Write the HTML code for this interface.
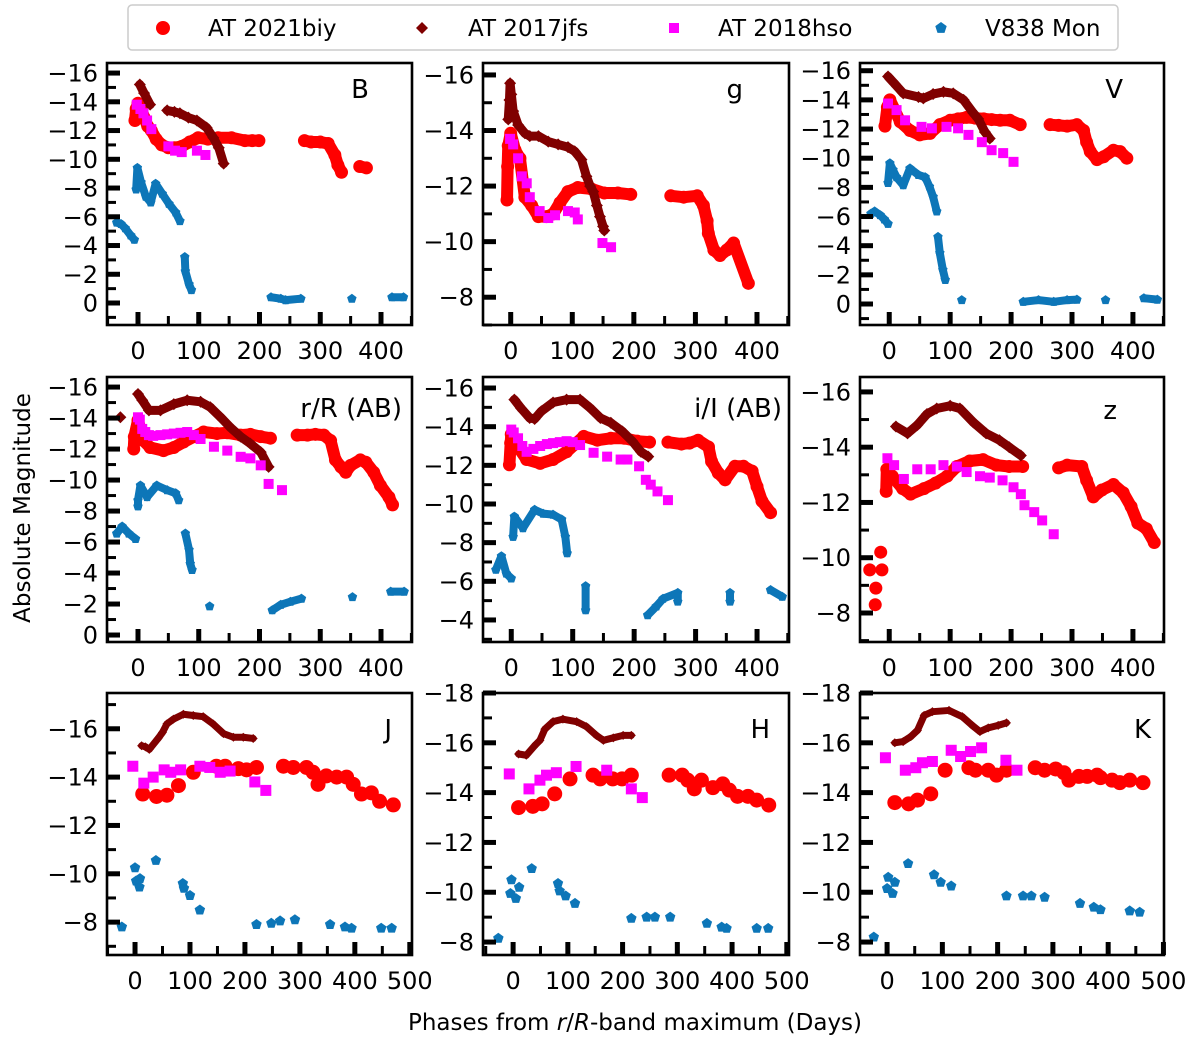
<!DOCTYPE html>
<html><head><meta charset="utf-8"><style>
html,body{margin:0;padding:0;background:#fff;}
svg{display:block;font-family:"DejaVu Sans","Liberation Sans",sans-serif;}
</style></head><body>
<svg id="fig" width="1200" height="1050" viewBox="0 0 1200 1050" xmlns="http://www.w3.org/2000/svg">
<g>
<rect x="128" y="5" width="990" height="45" rx="4" fill="#fff" stroke="#cccccc" stroke-width="1.5"/>
<g><circle cx="163" cy="28" r="7" fill="#ff0000"/><text x="208" y="36" font-size="23">AT 2021biy</text></g>
<g><path d="M422 22 L428 28 L422 34 L416 28 Z" fill="#800000"/><text x="468" y="36" font-size="23">AT 2017jfs</text></g>
<g><rect x="669" y="23" width="10" height="10" fill="#ff00ff"/><text x="718" y="36" font-size="23">AT 2018hso</text></g>
<g><path d="M941 22 L946.7 26.1 L944.5 32.9 L937.5 32.9 L935.3 26.1 Z" fill="#0d76b8"/><text x="985" y="36" font-size="23">V838 Mon</text></g>
</g>
<text x="30" y="508" font-size="23" text-anchor="middle" transform="rotate(-90 30 508)">Absolute Magnitude</text>
<text x="635" y="1030" font-size="23" text-anchor="middle">Phases from <tspan font-style="italic">r</tspan>/<tspan font-style="italic">R</tspan>-band maximum (Days)</text>
</svg>
<script>
// ---- data: [phase (days), absolute magnitude] ----
const B_biy=[[-5,-12.7],[-3,-13.5],[0,-13.9],[5,-13.6],[10,-12.9],[16,-12.3],[22,-12.0],[30,-11.4],[39,-11.0],[50,-10.8],[60,-10.8],[72,-10.9],[85,-11.2],[99,-11.5],[115,-11.4],[132,-11.5],[154,-11.5],[176,-11.3],[188,-11.3],[199,-11.3],[274,-11.3],[285,-11.2],[300,-11.2],[313,-11.1],[324,-10.3],[329,-9.6],[335,-9.1],[365,-9.5],[376,-9.4]];
const B_jfs=[[3,-15.2],[10,-14.6],[20,-13.8],[48,-13.4],[60,-13.3],[69,-13.2],[83,-12.9],[97,-12.7],[113,-12.2],[124,-11.5],[133,-10.8],[141,-9.7]];
const B_hso=[[-2,-13.8],[4,-13.5],[9,-13.2],[15,-12.7],[22,-12.1],[50,-10.9],[61,-10.6],[72,-10.5],[97,-10.6],[111,-10.3]];
const B_v838=[[-35,-5.6],[-28,-5.5],[-21,-5.2],[-12,-4.7],[-6,-4.4],[-3,-7.9],[-1,-9.4],[5,-8.4],[13,-7.4],[21,-7.0],[29,-8.3],[40,-7.6],[51,-6.9],[62,-6.3],[69,-5.7],[77,-3.2],[78,-2.2],[84,-1.3],[88,-0.9],[219,-0.4],[235,-0.3],[243,-0.2],[268,-0.3],[352,-0.3],[418,-0.4],[437,-0.4]];
const g_biy=[[-6,-11.5],[-5,-12.7],[-4,-13.45],[0,-13.9],[7,-13.3],[15,-13.0],[23,-11.6],[34,-11.3],[45,-10.9],[58,-10.9],[69,-11.0],[80,-11.4],[93,-11.8],[109,-11.95],[131,-11.9],[152,-11.75],[174,-11.75],[195,-11.7],[260,-11.65],[281,-11.6],[303,-11.65],[313,-11.3],[319,-10.75],[321,-10.3],[330,-9.7],[340,-9.5],[351,-9.7],[362,-9.95],[386,-8.5]];
const g_jfs=[[-4,-14.4],[-2,-15.1],[-1,-15.7],[1,-15.3],[4,-14.7],[12,-14.2],[23,-13.9],[31,-13.8],[45,-13.8],[61,-13.6],[77,-13.5],[93,-13.4],[104,-13.25],[115,-12.95],[123,-12.35],[129,-12.0],[134,-11.8],[140,-11.3],[145,-10.9],[150,-10.55],[152,-10.4]];
const g_hso=[[-1,-13.7],[4,-13.5],[12,-13.0],[18,-12.35],[26,-12.1],[31,-11.6],[47,-11.1],[61,-10.85],[72,-10.95],[93,-11.1],[104,-11.05],[109,-10.8],[149,-9.95],[163,-9.8]];
const g_v838=[];
const V_biy=[[-7,-12.2],[-3,-13.5],[1,-14.0],[9,-13.3],[18,-12.5],[34,-11.9],[50,-11.6],[67,-11.7],[83,-12.3],[100,-12.6],[113,-12.7],[127,-12.8],[141,-12.75],[155,-12.7],[168,-12.65],[182,-12.6],[198,-12.6],[215,-12.3],[264,-12.3],[278,-12.25],[292,-12.2],[308,-12.3],[319,-11.9],[324,-11.1],[330,-10.45],[341,-9.9],[352,-10.1],[368,-10.55],[379,-10.45],[390,-10.0]];
const V_jfs=[[-2,-15.6],[9,-15.1],[23,-14.45],[48,-14.2],[56,-14.1],[72,-14.4],[89,-14.55],[105,-14.45],[122,-14.0],[138,-13.1],[146,-12.7],[157,-11.8],[165,-11.35]];
const V_hso=[[-2,-13.75],[12,-13.3],[26,-12.6],[53,-12.15],[70,-12.05],[94,-12.15],[113,-12.05],[130,-11.6],[152,-11.1],[168,-10.55],[187,-10.35],[204,-9.75]];
const V_v838=[[-30,-6.2],[-24,-6.35],[-15,-6.1],[-8,-5.8],[-2,-5.5],[-2,-8.3],[1,-9.65],[6,-9.2],[12,-8.7],[23,-8.15],[34,-9.3],[48,-8.85],[59,-8.7],[66,-8.05],[72,-7.35],[78,-6.35],[80,-4.6],[83,-3.5],[88,-2.35],[92,-1.65],[119,-0.27],[220,-0.15],[245,-0.27],[270,-0.15],[292,-0.27],[308,-0.3],[355,-0.27],[418,-0.4],[440,-0.3]];
const r_biy=[[-7,-12.0],[-6,-12.8],[0,-13.85],[9,-12.55],[20,-12.1],[42,-11.9],[59,-12.1],[75,-12.45],[92,-12.8],[108,-13.1],[130,-13.0],[147,-13.05],[169,-12.9],[185,-12.95],[202,-12.8],[218,-12.7],[262,-12.9],[279,-12.9],[292,-12.95],[306,-12.9],[317,-12.55],[325,-11.3],[334,-10.85],[342,-10.5],[350,-10.95],[366,-11.3],[375,-11.15],[388,-10.5],[399,-9.65],[413,-8.9],[419,-8.4]];
const r_jfs=[[-29,-14.05],[0,-15.55],[7,-15.15],[18,-14.5],[37,-14.5],[59,-14.9],[81,-15.15],[103,-15.05],[119,-14.7],[136,-14.05],[152,-13.4],[169,-12.8],[185,-12.35],[202,-11.8],[215,-10.85]];
const r_hso=[[0,-14.05],[3,-13.9],[7,-13.3],[12,-13.1],[18,-12.9],[25,-12.85],[37,-12.9],[48,-12.95],[59,-13.0],[70,-13.05],[81,-13.1],[92,-12.9],[103,-12.65],[125,-12.15],[147,-11.9],[169,-11.5],[185,-11.4],[202,-10.95],[215,-9.75],[237,-9.35]];
const r_v838=[[-35,-6.55],[-26,-7.0],[-15,-6.55],[-4,-6.2],[0,-8.3],[0,-8.7],[4,-9.65],[15,-8.9],[31,-9.65],[48,-9.35],[62,-9.15],[67,-8.7],[78,-6.55],[84,-5.5],[86,-4.6],[89,-4.2],[118,-1.85],[221,-1.6],[235,-1.95],[251,-2.15],[269,-2.35],[353,-2.45],[416,-2.8],[438,-2.8]];
const i_biy=[[-3,-12.03],[-1,-13.15],[0,-13.6],[11,-12.95],[25,-12.3],[47,-12.1],[68,-12.3],[90,-12.7],[104,-13.1],[118,-13.5],[140,-13.3],[162,-13.4],[184,-13.4],[205,-13.25],[225,-13.2],[255,-13.2],[277,-13.1],[290,-13.15],[304,-13.3],[321,-12.95],[326,-12.2],[337,-11.6],[348,-11.25],[364,-11.95],[378,-11.95],[392,-11.7],[400,-10.9],[408,-10.15],[422,-9.55]];
const i_jfs=[[5,-15.4],[16,-14.95],[30,-14.45],[38,-14.4],[49,-14.8],[68,-15.25],[90,-15.4],[112,-15.4],[129,-14.95],[145,-14.45],[162,-14.2],[181,-13.75],[197,-13.25],[211,-12.7],[223,-12.45]];
const i_hso=[[0,-13.85],[4,-13.7],[11,-13.4],[18,-13.0],[25,-12.7],[36,-12.85],[47,-13.0],[58,-13.1],[68,-13.15],[79,-13.2],[90,-13.25],[100,-13.2],[112,-13.05],[134,-12.65],[156,-12.45],[178,-12.3],[189,-12.3],[208,-11.95],[219,-11.25],[227,-11.0],[238,-10.65],[255,-10.2]];
const i_v838=[[-25,-6.6],[-16,-7.3],[-8,-6.4],[0,-6.15],[3,-8.3],[5,-9.35],[19,-8.75],[38,-9.7],[52,-9.5],[68,-9.45],[82,-9.2],[88,-8.3],[91,-7.45],[121,-5.75],[121,-4.5],[222,-4.25],[236,-4.7],[247,-5.1],[271,-5.4],[271,-4.95],[356,-5.4],[356,-4.95],[422,-5.55],[441,-5.2]];
const z_biy=[[-32,-9.56],[-23,-8.3],[-22,-8.9],[-14,-10.2],[-12,-9.56],[-5,-12.4],[-4,-13.2],[5,-12.95],[22,-12.5],[35,-12.3],[57,-12.5],[76,-12.7],[95,-12.95],[111,-13.3],[132,-13.5],[154,-13.55],[176,-13.35],[197,-13.3],[219,-13.3],[278,-13.25],[292,-13.35],[316,-13.3],[324,-12.8],[335,-12.2],[349,-12.45],[368,-12.65],[384,-12.35],[397,-11.85],[408,-11.25],[422,-11.05],[435,-10.55]];
const z_jfs=[[11,-14.75],[30,-14.5],[46,-14.8],[62,-15.2],[78,-15.4],[100,-15.5],[116,-15.4],[138,-14.9],[159,-14.5],[181,-14.25],[197,-14.0],[216,-13.7]];
const z_hso=[[-3,-13.6],[8,-13.35],[24,-12.85],[46,-13.2],[68,-13.2],[89,-13.35],[111,-13.3],[127,-13.1],[149,-12.95],[165,-12.9],[186,-12.8],[204,-12.55],[216,-12.3],[222,-11.9],[238,-11.65],[251,-11.35],[270,-10.85]];
const z_v838=[];
const J_biy=[[14,-13.3],[39,-13.2],[58,-13.25],[79,-13.65],[106,-14.2],[148,-14.45],[164,-14.45],[188,-14.35],[203,-14.3],[221,-14.4],[270,-14.45],[288,-14.4],[312,-14.4],[324,-14.2],[333,-13.7],[348,-14.05],[367,-14.0],[385,-14.0],[397,-13.7],[412,-13.3],[430,-13.35],[445,-13.0],[470,-12.85]];
const J_jfs=[[12,-15.3],[19,-15.25],[26,-15.15],[42,-15.6],[50,-15.85],[58,-16.2],[70,-16.4],[88,-16.6],[106,-16.55],[124,-16.5],[142,-16.2],[161,-15.8],[179,-15.65],[197,-15.65],[215,-15.6]];
const J_hso=[[-4,-14.45],[16,-13.75],[33,-14.0],[53,-14.3],[65,-14.2],[83,-14.3],[118,-14.45],[136,-14.4],[155,-14.2],[173,-14.25],[218,-13.8],[238,-13.45]];
const J_v838=[[-24,-7.8],[0,-10.25],[2,-9.7],[8,-9.45],[9,-9.8],[38,-10.55],[87,-9.6],[89,-9.4],[100,-9.1],[118,-8.5],[221,-7.9],[248,-7.95],[264,-8.05],[291,-8.1],[355,-7.9],[382,-7.8],[394,-7.75],[448,-7.75],[467,-7.75]];
const H_biy=[[10,-13.4],[36,-13.45],[53,-13.55],[76,-13.95],[104,-14.55],[146,-14.7],[159,-14.55],[182,-14.55],[199,-14.55],[216,-14.7],[285,-14.7],[309,-14.7],[319,-14.5],[331,-14.15],[344,-14.5],[365,-14.2],[383,-14.35],[395,-14.1],[410,-13.85],[429,-13.85],[445,-13.7],[467,-13.5]];
const H_jfs=[[10,-15.55],[24,-15.5],[40,-15.9],[49,-16.1],[58,-16.55],[73,-16.85],[91,-16.95],[116,-16.85],[134,-16.65],[152,-16.3],[165,-16.1],[183,-16.2],[201,-16.3],[216,-16.3]];
const H_hso=[[-7,-14.75],[29,-14.15],[49,-14.5],[61,-14.7],[79,-14.8],[115,-15.05],[171,-14.9],[216,-14.15],[236,-13.8]];
const H_v838=[[-27,-8.15],[-5,-9.95],[-3,-10.5],[5,-9.75],[11,-10.2],[34,-10.95],[82,-10.35],[85,-10.05],[96,-9.85],[113,-9.55],[216,-8.95],[244,-9.0],[259,-9.0],[287,-9.0],[354,-8.75],[381,-8.6],[390,-8.55],[445,-8.55],[466,-8.55]];
const K_biy=[[14,-13.6],[39,-13.55],[55,-13.7],[79,-13.95],[105,-14.9],[148,-15.0],[160,-14.9],[183,-14.9],[198,-14.7],[216,-14.9],[268,-15.0],[285,-14.9],[305,-14.95],[320,-14.8],[329,-14.5],[347,-14.65],[362,-14.65],[380,-14.7],[386,-14.6],[407,-14.5],[421,-14.4],[439,-14.5],[463,-14.4]];
const K_jfs=[[14,-16.0],[29,-16.05],[43,-16.25],[55,-16.5],[67,-17.1],[82,-17.25],[112,-17.3],[136,-17.05],[154,-16.7],[168,-16.45],[183,-16.6],[201,-16.7],[216,-16.8]];
const K_hso=[[-3,-15.4],[33,-14.9],[52,-15.0],[64,-15.2],[82,-15.25],[116,-15.7],[133,-15.45],[151,-15.65],[171,-15.8],[215,-15.3],[235,-14.9]];
const K_v838=[[-24,-8.2],[0,-10.15],[2,-10.6],[10,-9.95],[14,-10.4],[38,-11.15],[85,-10.7],[97,-10.4],[116,-10.25],[216,-9.85],[246,-9.85],[261,-9.85],[285,-9.8],[349,-9.55],[374,-9.4],[386,-9.3],[439,-9.25],[457,-9.2]];
const bandLabels=["B","g","V","r/R (AB)","i/I (AB)","z","J","H","K"];
const xTickLabelsOpt=[0,100,200,300,400];
const xTickLabelsNIR=[0,100,200,300,400,500];

const NS="http://www.w3.org/2000/svg";
const svg=document.getElementById("fig");
function mk(tag,attrs,parent){const e=document.createElementNS(NS,tag);for(const k in attrs)e.setAttribute(k,attrs[k]);(parent||svg).appendChild(e);return e;}

const panels=[
 {x:107,y:63,w:305,h:262,x0:-51,x1:451,yt:-16.7,yb:1.53,ymaj:[-16,0],data:[B_biy,B_jfs,B_hso,B_v838],lab:0,lr:43,lb:98,nir:false},
 {x:483,y:63,w:306,h:262,x0:-45,x1:452,yt:-16.43,yb:-7.0,ymaj:[-16,-8],data:[g_biy,g_jfs,g_hso,g_v838],lab:1,lr:46,lb:98,nir:false},
 {x:860,y:63,w:304,h:262,x0:-48,x1:451,yt:-16.53,yb:1.44,ymaj:[-16,0],data:[V_biy,V_jfs,V_hso,V_v838],lab:2,lr:41,lb:98,nir:false},
 {x:107,y:377,w:305,h:265,x0:-51,x1:451,yt:-16.65,yb:0.45,ymaj:[-16,0],data:[r_biy,r_jfs,r_hso,r_v838],lab:3,lr:10,lb:417,nir:false},
 {x:483,y:377,w:306,h:265,x0:-46,x1:452,yt:-16.57,yb:-2.86,ymaj:[-16,-4],data:[i_biy,i_jfs,i_hso,i_v838],lab:4,lr:7,lb:417,nir:false},
 {x:860,y:377,w:304,h:265,x0:-48,x1:451,yt:-16.54,yb:-6.95,ymaj:[-16,-8],data:[z_biy,z_jfs,z_hso,z_v838],lab:5,lr:47,lb:419,nir:false},
 {x:107,y:693,w:305,h:262,x0:-51,x1:504,yt:-17.48,yb:-6.64,ymaj:[-16,-8],data:[J_biy,J_jfs,J_hso,J_v838],lab:6,lr:20,lb:738,nir:true},
 {x:483,y:693,w:306,h:262,x0:-55,x1:504,yt:-18.0,yb:-7.48,ymaj:[-18,-8],data:[H_biy,H_jfs,H_hso,H_v838],lab:7,lr:19,lb:738,nir:true},
 {x:860,y:693,w:304,h:262,x0:-49,x1:501,yt:-18.0,yb:-7.48,ymaj:[-18,-8],data:[K_biy,K_jfs,K_hso,K_v838],lab:8,lr:13,lb:738,nir:true}
];
const colors=["#ff0000","#800000","#ff00ff","#0d76b8"];
const seriesNames=["at2021biy","at2017jfs","at2018hso","v838mon"];

function marker(kind,cx,cy,s,g,col){
  let e;
  if(kind===0){e=mk("circle",{cx:cx,cy:cy,r:s,fill:col},g);}
  else if(kind===1){e=mk("path",{d:`M${cx} ${cy-s}L${cx+s} ${cy}L${cx} ${cy+s}L${cx-s} ${cy}Z`,fill:col},g);}
  else if(kind===2){e=mk("rect",{x:cx-s,y:cy-s,width:2*s,height:2*s,fill:col},g);}
  else {let p="";for(let k=0;k<5;k++){const a=(-90+72*k)*Math.PI/180;p+=(k?"L":"M")+(cx+s*Math.cos(a)).toFixed(1)+" "+(cy+s*Math.sin(a)).toFixed(1);}e=mk("path",{d:p+"Z",fill:col},g);}
  return e;
}

panels.forEach((P,pi)=>{
  const g=mk("g",{});
  
  
  const sx=d=>P.x+(d-P.x0)/(P.x1-P.x0)*P.w;
  const sy=m=>P.y+(m-P.yt)/(P.yb-P.yt)*P.h;
  const clip=mk("clipPath",{id:"c"+pi},g);
  mk("rect",{x:P.x,y:P.y,width:P.w,height:P.h},clip);
  const plot=mk("g",{"clip-path":`url(#c${pi})`},g);
  const gapMax=P.nir?31:25;
  const sizes=P.nir?[7.5,4.5,5.5,5.5]:[6.5,6,5,5];
  const connectFlags=P.nir?[false,true,false,false]:[true,true,false,true];
  const lw=P.nir?[0,7,0,0]:[12,9,0,8];
  P.data.forEach((arr,si)=>{
    const sg=mk("g",{},plot);
    
    
    if(connectFlags[si]){
      for(let k=1;k<arr.length;k++){
        const a=arr[k-1],b=arr[k];
        if(b[0]-a[0]<=gapMax && Math.abs(b[1]-a[1])<=1.6 && !(P.lab===5 && a[0]<-10)){
          const ln=mk("line",{x1:sx(a[0]),y1:sy(a[1]),x2:sx(b[0]),y2:sy(b[1]),stroke:colors[si],"stroke-width":lw[si],"stroke-linecap":"round"},sg);
          
          
        }
      }
    }
    arr.forEach(pt=>{
      const m=marker(si,sx(pt[0]),sy(pt[1]),sizes[si],sg,colors[si]);
      
      
    });
  });
  const fr=mk("rect",{x:P.x,y:P.y,width:P.w,height:P.h,fill:"none",stroke:"#000","stroke-width":2.6},g);
  
  
  const lo=Math.ceil(Math.min(P.yt,P.yb)), hi=Math.floor(Math.max(P.yt,P.yb));
  for(let v=lo;v<=hi;v++){
    const yy=sy(v), major=(v%2===0);
    mk("line",{x1:P.x,y1:yy,x2:P.x+(major?13:9),y2:yy,stroke:"#000","stroke-width":major?5:3},g);
    if(major && v>=P.ymaj[0] && v<=P.ymaj[1]){
      const t=mk("text",{x:P.x-9,y:yy+8.5,"font-size":24,"text-anchor":"end"},g);
      t.textContent=(v<0?"\u2212":"")+Math.abs(v);
      
      
    }
  }
  const xl=P.nir?xTickLabelsNIR:xTickLabelsOpt;
  for(let d=Math.ceil(P.x0/50)*50; d<=P.x1; d+=50){
    const xx=sx(d), major=(d%100===0);
    mk("line",{x1:xx,y1:P.y+P.h,x2:xx,y2:P.y+P.h-(major?13:9),stroke:"#000","stroke-width":major?5:3},g);
  }
  xl.forEach(d=>{
    const t=mk("text",{x:sx(d),y:P.y+P.h+34,"font-size":24,"text-anchor":"middle"},g);
    t.textContent=d;
    
    
  });
  const bl=mk("text",{x:P.x+P.w-P.lr,y:P.lb,"font-size":26,"text-anchor":"end"},g);
  bl.textContent=bandLabels[P.lab];
  
  
});
</script>
</body></html>
